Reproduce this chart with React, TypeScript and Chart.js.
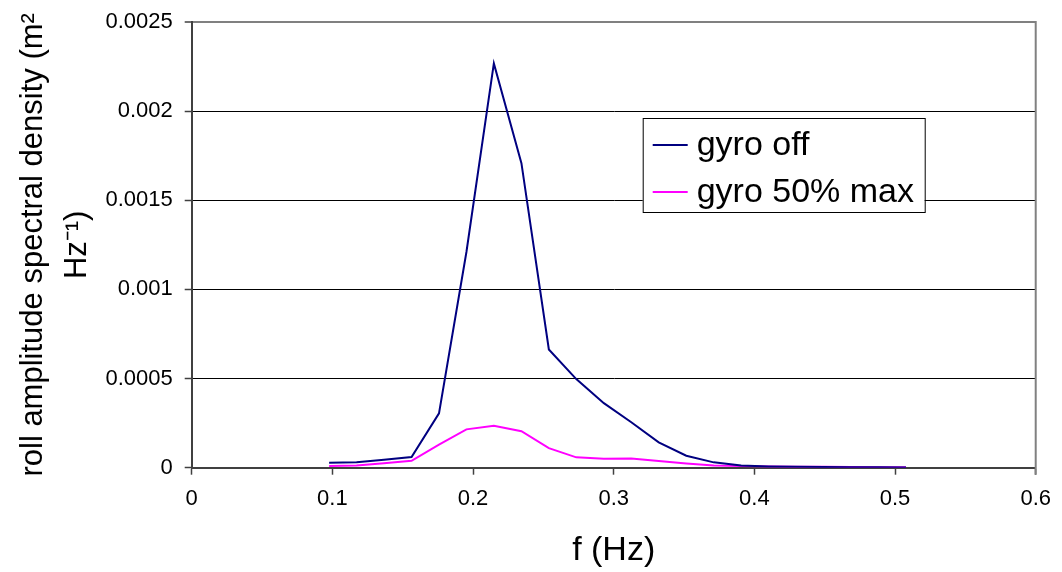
import { useEffect, useRef } from 'react';
import { Chart, registerables } from 'chart.js';

Chart.register(...registerables);

// ---- data ----
const frequencies = [
  0.0977, 0.1172, 0.1367, 0.1563, 0.1758, 0.1953, 0.2148, 0.2344, 0.2539, 0.2734, 0.293,
  0.3125, 0.332, 0.3516, 0.3711, 0.3906, 0.4102, 0.4297, 0.4492, 0.4688, 0.4883, 0.5078,
];
const gyroOff = [
  0.000028, 0.00003, 0.000045, 0.00006, 0.000305, 0.00121, 0.002268, 0.001708, 0.000663,
  0.000497, 0.000362, 0.000255, 0.000142, 0.000067, 0.00003, 0.000012, 0.000007, 0.000005,
  0.000004, 0.000003, 0.000002, 0.0000015,
];
const gyro50 = [
  0.00001, 0.000012, 0.000025, 0.000039, 0.00013, 0.000215, 0.000235, 0.000205, 0.00011,
  0.000058, 0.00005, 0.000052, 0.000037, 0.000024, 0.000013, 0.000009, 0.000007, 0.000006,
  0.000005, 0.000004, 0.000003, 0.000002,
];
const seriesLabels = ['gyro off', 'gyro 50% max'];
const seriesColors = ['#000080', '#FF00FF'];
const xTickValues = [0, 0.1, 0.2, 0.3, 0.4, 0.5, 0.6];
const yTickValues = [0, 0.0005, 0.001, 0.0015, 0.002, 0.0025];
const xTitle = 'f (Hz)';
const yTitle = ['roll amplitude spectral density (m\u00B2', 'Hz\u207B\u00B9)'];

const FONT = "'Liberation Sans', Arial, sans-serif";

const boxLegend = {
  id: 'boxLegend',
  afterDraw(chart: any, _args: any, opts: any) {
    const { ctx, chartArea } = chart;
    const x0 = chartArea.left + opts.offsetX;
    const y0 = chartArea.top + opts.offsetY;
    ctx.save();
    ctx.fillStyle = '#ffffff';
    ctx.fillRect(x0, y0, opts.width, opts.height);
    ctx.strokeStyle = '#000000';
    ctx.lineWidth = 1;
    ctx.strokeRect(x0 + 0.5, y0 + 0.5, opts.width, opts.height);
    ctx.font = `${opts.fontSize}px ${FONT}`;
    ctx.textBaseline = 'middle';
    ctx.textAlign = 'left';
    chart.data.datasets.forEach((ds: any, i: number) => {
      const cy = y0 + opts.rowStart + i * opts.rowGap;
      ctx.strokeStyle = ds.borderColor;
      ctx.lineWidth = 2;
      ctx.beginPath();
      ctx.moveTo(x0 + opts.lineStart, cy);
      ctx.lineTo(x0 + opts.lineStart + opts.lineLen, cy);
      ctx.stroke();
      ctx.fillStyle = '#000000';
      ctx.fillText(ds.label, x0 + opts.textStart, cy + 1);
    });
    ctx.restore();
  },
};

const rightBorder = {
  id: 'rightBorder',
  afterDraw(chart: any) {
    const { ctx, chartArea } = chart;
    ctx.save();
    ctx.strokeStyle = '#808080';
    ctx.lineWidth = 2;
    ctx.beginPath();
    ctx.moveTo(chartArea.right, chartArea.top - 1);
    ctx.lineTo(chartArea.right, chartArea.bottom + 7);
    ctx.stroke();
    ctx.restore();
  },
};

export default function App() {
  const canvasRef = useRef<HTMLCanvasElement | null>(null);

  useEffect(() => {
    document.body.style.margin = '0';
    const canvas = canvasRef.current;
    if (!canvas) return;
    const chart = new Chart(canvas, {
      type: 'line',
      data: {
        datasets: [
          {
            label: seriesLabels[0],
            data: frequencies.map((f, i) => ({ x: f, y: gyroOff[i] })),
            borderColor: seriesColors[0],
            backgroundColor: seriesColors[0],
            borderWidth: 2,
            pointRadius: 0,
            tension: 0,
          },
          {
            label: seriesLabels[1],
            data: frequencies.map((f, i) => ({ x: f, y: gyro50[i] })),
            borderColor: seriesColors[1],
            backgroundColor: seriesColors[1],
            borderWidth: 2,
            pointRadius: 0,
            tension: 0,
          },
        ],
      },
      options: {
        animation: false,
        responsive: false,
        devicePixelRatio: 1,
        layout: { padding: { top: 22, right: 23.5, bottom: 0, left: 0 } },
        plugins: {
          legend: { display: false },
          tooltip: { enabled: false },
          boxLegend: {
            offsetX: 451,
            offsetY: 96,
            width: 282,
            height: 94,
            rowStart: 27,
            rowGap: 47,
            lineStart: 10,
            lineLen: 35,
            textStart: 54,
            fontSize: 34,
          },
        } as any,
        scales: {
          x: {
            type: 'linear',
            min: 0,
            max: 0.6,
            afterBuildTicks: (axis: any) => {
              axis.ticks = xTickValues.map((v) => ({ value: v }));
            },
            afterFit: (axis: any) => {
              axis.height = 104.3;
            },
            ticks: {
              color: '#000',
              font: { family: FONT, size: 22 },
              padding: 11,
              maxRotation: 0,
              callback: (v: any) => String(Math.round(Number(v) * 10) / 10),
            },
            grid: {
              drawOnChartArea: false,
              drawTicks: true,
              tickLength: 7,
              tickColor: '#404040',
              tickWidth: 1.5,
            },
            border: { color: '#404040', width: 2 },
            title: {
              display: true,
              text: xTitle,
              color: '#000',
              font: { family: FONT, size: 34 },
              padding: { top: 0, bottom: 1 },
            },
          },
          y: {
            type: 'linear',
            min: 0,
            max: 0.0025,
            afterBuildTicks: (axis: any) => {
              axis.ticks = yTickValues.map((v) => ({ value: v }));
            },
            afterFit: (axis: any) => {
              axis.width = 191.7;
              axis.paddingTop = 0;
              axis.paddingBottom = 0;
            },
            ticks: {
              color: '#000',
              font: { family: FONT, size: 22 },
              padding: 12,
              callback: (v: any) => String(Number(Number(v).toFixed(4))),
            },
            grid: {
              color: (c: any) =>
                c.tick && c.tick.value >= 0.0025 ? '#808080' : c.tick && c.tick.value === 0 ? '#404040' : '#000000',
              lineWidth: (c: any) => (c.tick && c.tick.value >= 0.0025 ? 2 : 1),
              drawTicks: true,
              tickLength: 7,
              tickColor: '#404040',
              tickWidth: 1.5,
            },
            border: { color: '#404040', width: 2 },
            title: {
              display: true,
              text: yTitle,
              color: '#000',
              font: { family: FONT, size: 31, lineHeight: 1.42 },
              padding: { top: 11, bottom: 4 },
            },
          },
        },
      },
      plugins: [boxLegend, rightBorder],
    });
    return () => chart.destroy();
  }, []);

  return <canvas ref={canvasRef} width={1062} height={572} style={{ display: 'block' }} />;
}
